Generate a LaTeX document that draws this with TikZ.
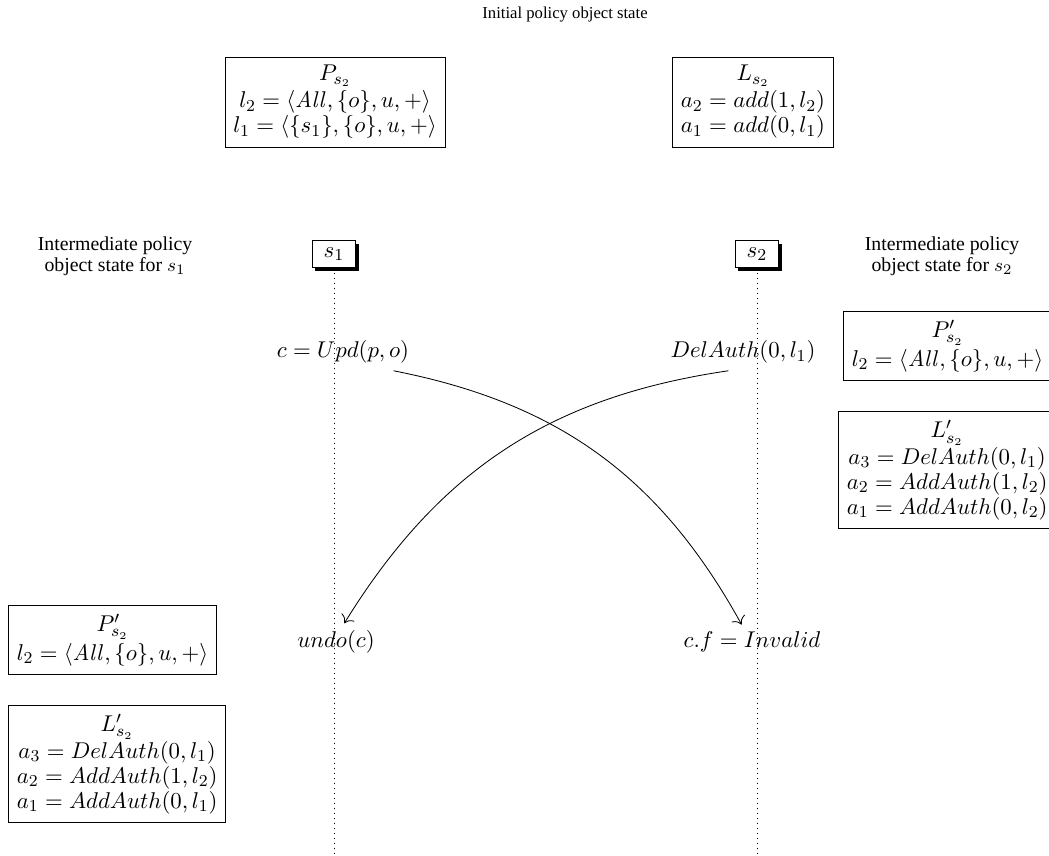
\documentclass[tikz,border=0pt]{standalone}
\usepackage[no-math]{fontspec}
\setmainfont{Liberation Serif}
\usetikzlibrary{shadows,arrows.meta}

\begin{document}
\begin{tikzpicture}[x=0.48pt, y=-0.48pt,
        statebox/.style={draw, align=center, inner xsep=4pt, inner ysep=4pt, font=\fontsize{11}{12}\selectfont},
        proc/.style={draw, fill=white, minimum width=21pt, minimum height=13pt, inner sep=2pt,
            font=\fontsize{11}{11}\selectfont,
            drop shadow={shadow xshift=1.5pt, shadow yshift=-1.5pt, fill=black, opacity=1}},
        note/.style={align=center, font=\fontsize{9.5}{10}\selectfont},
        op/.style={font=\fontsize{11}{11}\selectfont},
        life/.style={dotted},
        >={To[scale=1.4]}]
                \useasboundingbox (0, 0) rectangle (1049, 855);
                \coordinate (bottom) at (0, 855);

                \node [note, font=\fontsize{8}{9.5}\selectfont] (title) at (565, 15) {Initial policy object state};

                \node [statebox] (ps2) at (335, 102) {$P_{s_2}$\\[1pt] $l_2 = \langle \mathit{All}, \{o\}, u, + \rangle$\\ $l_1 = \langle \{s_1\}, \{o\}, u, + \rangle$};
                \node [statebox] (ls2) at (753, 102) {$L_{s_2}$\\[1pt] $a_2 = add(1, l_2)$\\ $a_1 = add(0, l_1)$};

                \node [note] (midleft) at (115, 256) {Intermediate policy\\ object state for $s_1$};
                \node [note] (midright) at (942, 256) {Intermediate policy\\ object state for $s_2$};

                \node [proc] (s1) at (334, 254) {$s_1$};
                \node [proc] (s2) at (757, 254) {$s_2$};
                \draw [life] (s1) -- (s1 |- bottom);
                \draw [life] (s2) -- (s2 |- bottom);

                \node [statebox, anchor=west] (pright) at (843, 346) {$P'_{s_2}$\\[2pt] $l_2 = \langle \mathit{All}, \{o\}, u, + \rangle$};
                \node [statebox, anchor=west] (lright) at (838, 470) {$L'_{s_2}$\\[1pt] $a_3 = DelAuth(0, l_1)$\\ $a_2 = AddAuth(1, l_2)$\\ $a_1 = AddAuth(0, l_2)$};

                \node [statebox, anchor=west] (pleft) at (8, 640) {$P'_{s_2}$\\[2pt] $l_2 = \langle \mathit{All}, \{o\}, u, + \rangle$};
                \node [statebox, anchor=north west] (lleft) at (8, 705) {$L'_{s_2}$\\[1pt] $a_3 = DelAuth(0, l_1)$\\ $a_2 = AddAuth(1, l_2)$\\ $a_1 = AddAuth(0, l_1)$};

                \node [op] (upd) at (343, 352) {$c = Upd(p, o)$};
                \node [op] (del) at (743, 352) {$DelAuth(0, l_1)$};
                \node [op] (undo) at (336, 642) {$undo(c)$};
                \node [op] (inv) at (752, 642) {$c.f = Invalid$};

                \draw [->] ([xshift=-11pt]upd.south east) to [bend left=25] ([xshift=-5pt]inv.north);
                \draw [->] ([xshift=-7pt]del.south) to [bend right=25] ([xshift=4pt]undo.north);
\end{tikzpicture}
\end{document}
